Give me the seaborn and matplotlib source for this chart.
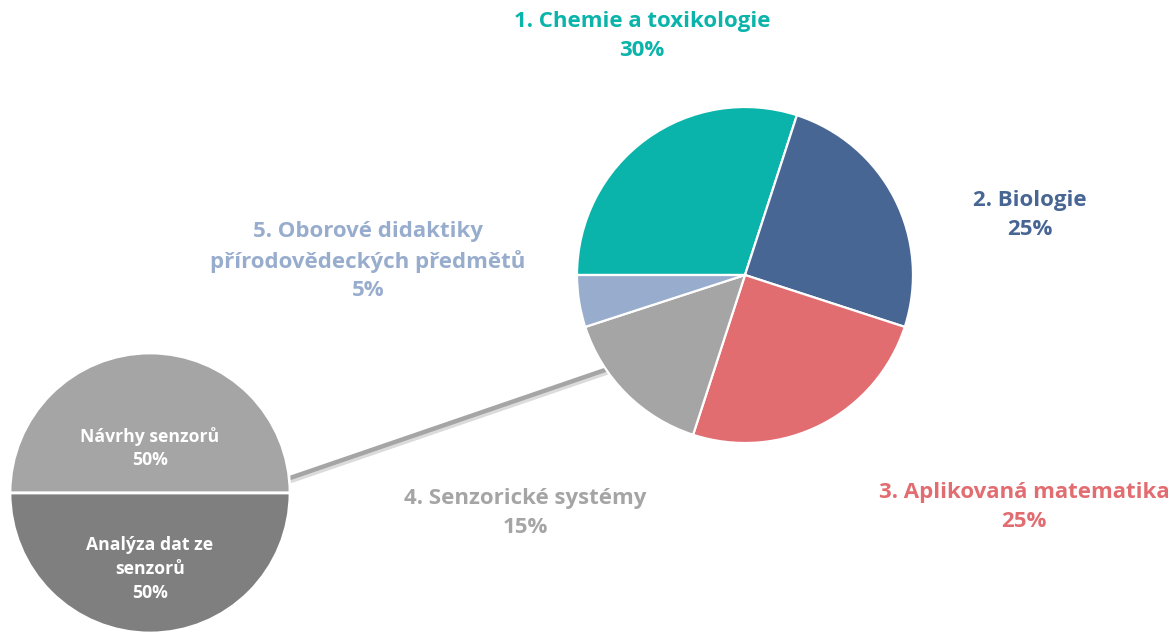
import matplotlib
matplotlib.use("Agg")
import matplotlib.pyplot as plt
import matplotlib.patheffects as pe
import seaborn as sns

# --- data ---
categories = [
    "1. Chemie a toxikologie",
    "2. Biologie",
    "3. Aplikovaná matematika",
    "4. Senzorické systémy",
    "5. Oborové didaktiky\npřírodovědeckých předmětů",
]
shares = [30, 25, 25, 15, 5]
colors = ["#0BB4AA", "#486694", "#E26D71", "#A5A5A5", "#98ADCD"]

sub_categories = ["Návrhy senzorů", "Analýza dat ze\nsenzorů"]
sub_shares = [50, 50]
sub_colors = ["#A5A5A5", "#7F7F7F"]

# --- layout (pixel units, y measured from the bottom) ---
W, H = 1172, 634
MAIN_C, MAIN_R = (745, H - 275), 168
SUB_C, SUB_R = (150, H - 493), 140
# label centres, in pixels from the top
label_pos = [(642, 36), (1030, 215), (1024, 507), (525, 513), (368, 261)]
sub_label_pos = [(150, 448), (150, 569)]

sns.set_theme(style="white")
plt.rcParams["font.family"] = ["Open Sans", "DejaVu Sans"]

fig = plt.figure(figsize=(W / 100, H / 100), dpi=100)
ax = fig.add_axes([0, 0, 1, 1])

# connector between the grey slice and the second pie
ax.plot([287, 640], [H - 479, H - 358], color="#A5A5A5", lw=3.2,
        solid_capstyle="butt", zorder=1,
        path_effects=[pe.SimpleLineShadow(offset=(1, -2), shadow_color="#999999", alpha=0.35),
                      pe.Normal()])

ax.pie(shares, colors=colors, startangle=180, counterclock=False,
       center=MAIN_C, radius=MAIN_R, frame=True,
       wedgeprops=dict(edgecolor="white", linewidth=1.6, zorder=2))
ax.pie(sub_shares, colors=sub_colors, startangle=0, counterclock=True,
       center=SUB_C, radius=SUB_R, frame=True,
       wedgeprops=dict(edgecolor="white", linewidth=2, zorder=2))

for name, val, col, (x, y) in zip(categories, shares, colors, label_pos):
    ax.text(x, H - y, f"{name}\n{val}%", color=col, fontsize=16,
            fontweight="bold", ha="center", va="center", linespacing=1.45,
            zorder=5)

for name, val, (x, y) in zip(sub_categories, sub_shares, sub_label_pos):
    ax.text(x, H - y, f"{name}\n{val}%", color="white", fontsize=12.7,
            fontweight="bold", ha="center", va="center", linespacing=1.4,
            zorder=5)

ax.set_xlim(0, W)
ax.set_ylim(0, H)
ax.set_aspect("equal")
ax.axis("off")

fig.savefig("out.png", dpi=100, facecolor="white")
